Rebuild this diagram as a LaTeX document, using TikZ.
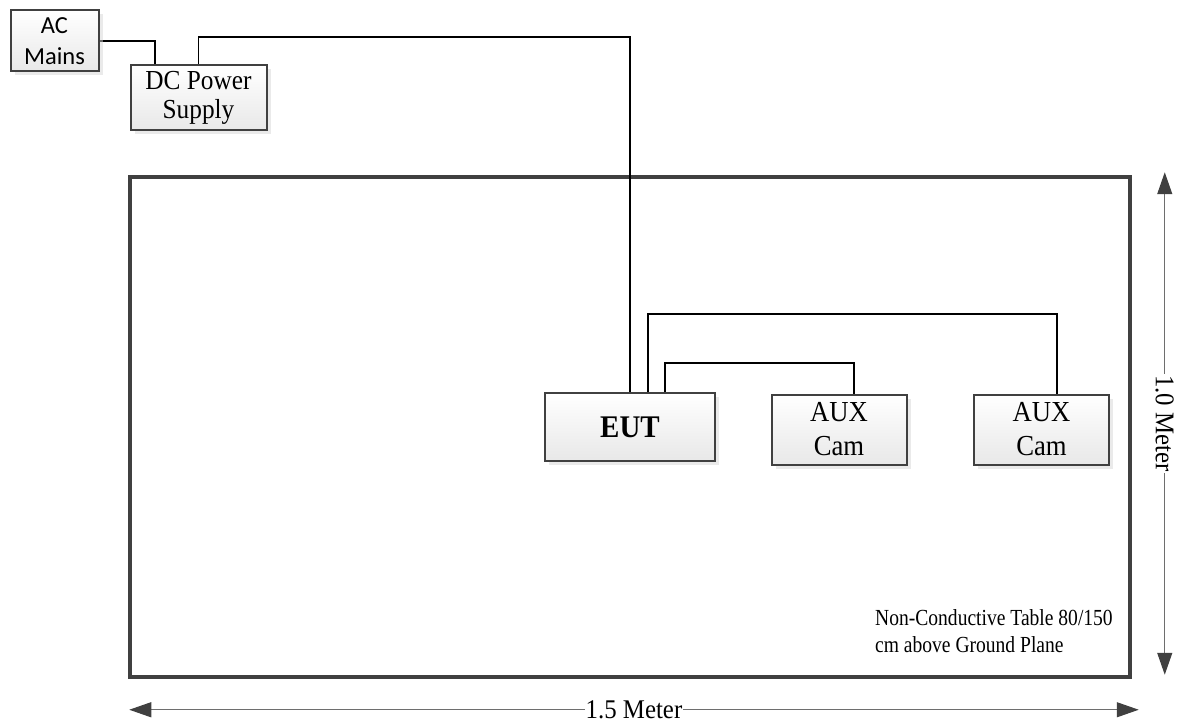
\documentclass[tikz,border=0pt]{standalone}
\usepackage{fontspec}
\setmainfont{Liberation Serif}[FakeStretch=0.92]
\newfontfamily\notefont{Liberation Serif}[FakeStretch=0.85]
\newfontfamily\sansfont{Carlito}
\usetikzlibrary{calc, arrows.meta, shadows}
\definecolor{edgegray}{HTML}{404040}
\definecolor{dimgray}{HTML}{6E6E6E}

\begin{document}
\begin{tikzpicture}[x=1pt, y=-1pt,
  unit/.style = {draw=edgegray, line width=2pt, top color=white, bottom color=black!9,
    drop shadow={shadow xshift=4pt, shadow yshift=-4pt, fill=black!16},
    inner sep=0pt, align=center},
  wire/.style = {black, line width=1.8pt},
  dim/.style = {dimgray, line width=1.2pt,
    {Triangle[length=22pt, width=15pt, color=edgegray]}-{Triangle[length=22pt, width=15pt, color=edgegray]}},
  dimlabel/.style = {fill=white, text=black, inner sep=1pt, font=\fontsize{27}{27}\selectfont},
  ]
\useasboundingbox (0,0) rectangle (1181,722);
\node[draw=edgegray, line width=3.5pt, minimum width=1000pt, minimum height=500pt, inner sep=0pt] (tbl) at (630,427) {};

\draw[wire] (98,41) coordinate (acout) -| (155,66) coordinate (dcin);
\node[unit, font=\sansfont\fontsize{24.5}{31}\selectfont, minimum width=88pt, minimum height=61pt] (ac) at (54.5,41) {AC\\Mains};
\node[unit, font=\fontsize{27.5}{29}\selectfont, minimum width=136pt, minimum height=65pt] (dc) at (198.5,98) {DC Power\\Supply};
\node[unit, font=\bfseries\fontsize{31.5}{31}\selectfont, minimum width=170pt, minimum height=68pt] (eut) at (630,427) {EUT};
\node[unit, font=\fontsize{29}{34}\selectfont, minimum width=135pt, minimum height=70pt] (aux1) at (839,429.5) {AUX\\Cam};
\node[unit, font=\fontsize{29}{34}\selectfont, minimum width=135pt, minimum height=70pt] (aux2) at (1041.5,429.5) {AUX\\Cam};

\draw[wire] ($(dc.north west)+(69,0)$) |- ($(eut.north)+(0,-355)$) -- (eut.north);
\draw[wire] ($(eut.north)+(18,0)$) -- ++(0,-78) -| ($(aux2.north)+(15.5,0)$);
\draw[wire] ($(eut.north)+(35,0)$) -- ++(0,-29) -| ($(aux1.north)+(15,0)$);

\node[anchor=north west, align=left, font=\notefont\fontsize{23}{27.5}\selectfont, inner sep=0pt] (note) at (875,609) {Non-Conductive Table 80/150\\cm above Ground Plane};

\coordinate (wl) at ($(tbl.south west)+(1,31)$);
\coordinate (wr) at ($(tbl.south east)+(7,31)$);
\coordinate (ht) at ($(tbl.north east)+(33,-3)$);
\coordinate (hb) at ($(tbl.south east)+(33,-4)$);
\draw[dim] (wl) -- (wr) node[midway, dimlabel] {1.5 Meter};
\draw[dim] (ht) -- (hb) node[midway, dimlabel, rotate=-90] {1.0 Meter};
\end{tikzpicture}
\end{document}
